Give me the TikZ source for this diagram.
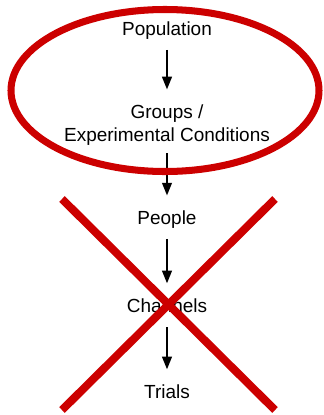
\documentclass[tikz,border=0pt]{standalone}
\usepackage{fontspec}
\setmainfont{Liberation Sans}
\usetikzlibrary{arrows.meta}
\definecolor{crossred}{RGB}{204,0,0}
\begin{document}
\begin{tikzpicture}[x=0.025cm, y=-0.025cm,
  label/.style={inner sep=0pt, align=center, font=\fontsize{13.5}{16.4}\selectfont},
  flow/.style={-{Triangle[length=9pt, width=7pt]}, line width=1.1pt, shorten <=7pt, shorten >=11pt},
  strike/.style={draw=crossred, line width=5.7pt}]
  % bounding box
  \useasboundingbox (0,0) rectangle (323,415);
  % levels
  \node[label] (pop) at (167,31) {Population};
  \node[label] (grp) at (167,125.5) {Groups /\\Experimental Conditions};
  \node[label] (ppl) at (167,220) {People};
  \node[label] (chan) at (167,306) {Channels};
  \node[label] (trl) at (167,392) {Trials};
  % arrows between levels
  \draw[flow] (pop) -- (grp);
  \draw[flow, shorten <=5pt] (grp) -- (ppl);
  \draw[flow] (ppl) -- (chan);
  \draw[flow, shorten <=10pt] (chan) -- (trl);
  % ring round the upper levels
  \draw[draw=crossred, line width=5pt] (165,90.5) ellipse (154 and 81);
  % cross over the lower levels
  \draw[strike] (62,199) -- (275,410);
  \draw[strike] (275,199) -- (62,410);
\end{tikzpicture}
\end{document}
